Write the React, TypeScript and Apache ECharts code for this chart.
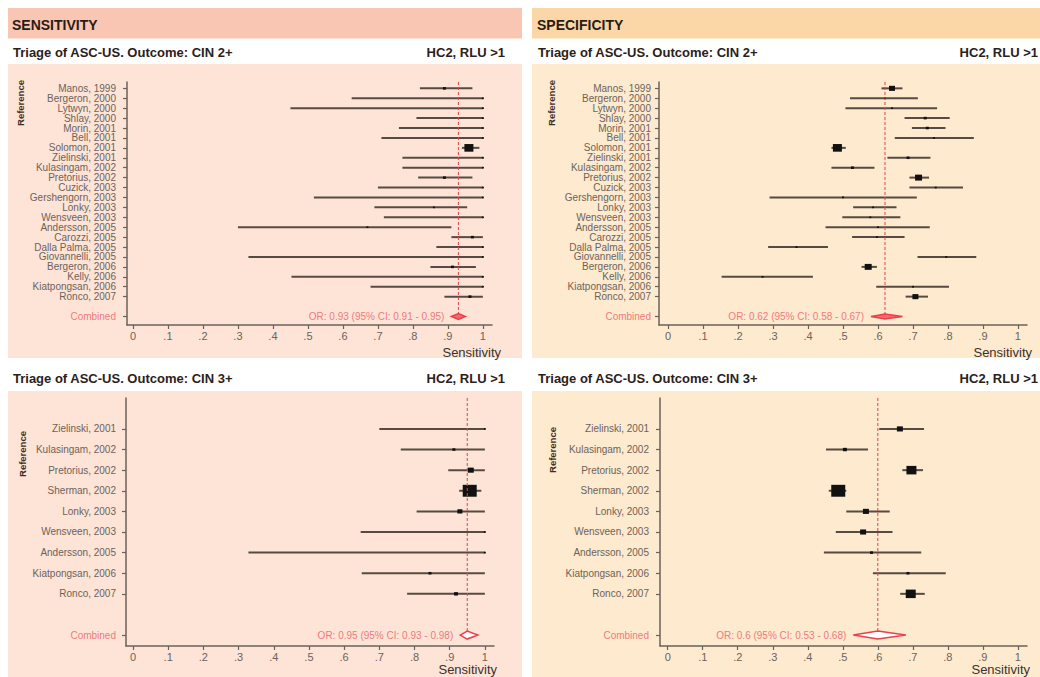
import React, { useEffect, useRef } from 'react';
import * as echarts from 'echarts';

// ---------- DATA ----------
const cin2Studies = [
  'Manos, 1999', 'Bergeron, 2000', 'Lytwyn, 2000', 'Shlay, 2000', 'Morin, 2001', 'Bell, 2001',
  'Solomon, 2001', 'Zielinski, 2001', 'Kulasingam, 2002', 'Pretorius, 2002', 'Cuzick, 2003',
  'Gershengorn, 2003', 'Lonky, 2003', 'Wensveen, 2003', 'Andersson, 2005', 'Carozzi, 2005',
  'Dalla Palma, 2005', 'Giovannelli, 2005', 'Bergeron, 2006', 'Kelly, 2006', 'Kiatpongsan, 2006',
  'Ronco, 2007',
];
const sens2Est = [0.89, 1.0, 1.0, 1.0, 1.0, 1.0, 0.96, 1.0, 1.0, 0.89, 1.0, 1.0, 0.86, 1.0, 0.67, 0.97, 1.0, 1.0, 0.913, 1.0, 1.0, 0.963];
const sens2Lo = [0.82, 0.625, 0.45, 0.81, 0.76, 0.71, 0.94, 0.77, 0.77, 0.815, 0.70, 0.517, 0.69, 0.717, 0.30, 0.91, 0.867, 0.33, 0.85, 0.453, 0.679, 0.89];
const sens2Hi = [0.97, 1.0, 1.0, 1.0, 1.0, 1.0, 0.99, 1.0, 1.0, 0.97, 1.0, 1.0, 0.955, 1.0, 0.91, 1.0, 1.0, 1.0, 0.98, 1.0, 1.0, 1.0];
const sens2Weight = [3, 2, 2, 2, 2, 2, 9, 2, 2, 3, 2, 2, 2, 2, 2, 3, 2, 2, 3, 2, 2, 3];
const sens2Combined = { est: 0.93, lo: 0.91, hi: 0.95 };

const spec2Est = [0.64, 0.62, 0.64, 0.735, 0.741, 0.76, 0.484, 0.686, 0.527, 0.716, 0.765, 0.50, 0.586, 0.578, 0.60, 0.597, 0.367, 0.795, 0.572, 0.27, 0.70, 0.707];
const spec2Lo = [0.61, 0.52, 0.507, 0.676, 0.697, 0.648, 0.467, 0.627, 0.467, 0.69, 0.69, 0.29, 0.529, 0.498, 0.45, 0.526, 0.286, 0.713, 0.553, 0.153, 0.595, 0.679];
const spec2Hi = [0.67, 0.714, 0.769, 0.805, 0.793, 0.874, 0.508, 0.75, 0.59, 0.746, 0.843, 0.711, 0.653, 0.664, 0.748, 0.676, 0.457, 0.881, 0.597, 0.414, 0.803, 0.743];
const spec2Weight = [6, 2, 2, 3, 3, 2, 9, 3, 3, 7, 2, 2, 2, 2, 2, 2, 2, 2, 7, 2, 2, 6];
const spec2Combined = { est: 0.62, lo: 0.58, hi: 0.67 };

const cin3Studies = [
  'Zielinski, 2001', 'Kulasingam, 2002', 'Pretorius, 2002', 'Sherman, 2002', 'Lonky, 2003',
  'Wensveen, 2003', 'Andersson, 2005', 'Kiatpongsan, 2006', 'Ronco, 2007',
];
const sens3Est = [1.0, 0.912, 0.96, 0.957, 0.929, 1.0, 1.0, 0.844, 0.918];
const sens3Lo = [0.70, 0.761, 0.896, 0.927, 0.806, 0.647, 0.328, 0.65, 0.779];
const sens3Hi = [1.0, 1.0, 1.0, 0.99, 1.0, 1.0, 1.0, 1.0, 1.0];
const sens3Weight = [2, 3, 6, 14, 5, 2, 2, 3, 4];
const sens3Combined = { est: 0.95, lo: 0.93, hi: 0.98 };

const spec3Est = [0.663, 0.506, 0.696, 0.487, 0.566, 0.558, 0.582, 0.686, 0.694];
const spec3Lo = [0.604, 0.452, 0.67, 0.46, 0.51, 0.48, 0.446, 0.586, 0.664];
const spec3Hi = [0.732, 0.572, 0.729, 0.51, 0.634, 0.642, 0.724, 0.794, 0.734];
const spec3Weight = [6, 4, 10, 14, 6, 6, 3, 3, 10];
const spec3Combined = { est: 0.6, lo: 0.53, hi: 0.68 };

const xTicks = [0, 0.1, 0.2, 0.3, 0.4, 0.5, 0.6, 0.7, 0.8, 0.9, 1];
const xTickLabels = ['0', '.1', '.2', '.3', '.4', '.5', '.6', '.7', '.8', '.9', '1'];

const headerLeft = 'SENSITIVITY';
const headerRight = 'SPECIFICITY';
const titleCin2 = 'Triage of ASC-US. Outcome: CIN 2+';
const titleCin3 = 'Triage of ASC-US. Outcome: CIN 3+';
const testLabel = 'HC2, RLU >1';
const xName = 'Sensitivity';
const yName = 'Reference';
const combinedName = 'Combined';

// ---------- STYLE ----------
const FONT = "'Liberation Sans', Arial, sans-serif";
const AXIS = '#6b625a';
const LABEL = '#6e625a';
const RED = '#ec3f4c';
const RED_TEXT = '#f07a80';

function forestRender(params: any, api: any) {
  const row = api.value(3);
  const pLo = api.coord([api.value(1), row]);
  const pHi = api.coord([api.value(2), row]);
  const pE = api.coord([api.value(0), row]);
  const s = api.value(4);
  const h = s * 0.85;
  return {
    type: 'group',
    children: [
      { type: 'line', shape: { x1: pLo[0], y1: pLo[1], x2: pHi[0], y2: pHi[1] }, style: { stroke: '#574b41', lineWidth: 2 } },
      { type: 'rect', shape: { x: pE[0] - s / 2, y: pE[1] - h / 2, width: s, height: h }, style: { fill: '#111' } },
    ],
  };
}

function makeCombinedRender(filled: boolean, halfH: number) {
  return (params: any, api: any) => {
    const row = api.value(3);
    const est = api.value(0);
    const lo = api.value(1);
    const hi = api.value(2);
    const pE = api.coord([est, row]);
    const pL = api.coord([lo, row]);
    const pH = api.coord([hi, row]);
    const cs = params.coordSys;
    return {
      type: 'group',
      children: [
        { type: 'line', shape: { x1: pE[0], y1: cs.y, x2: pE[0], y2: pE[1] }, style: { stroke: RED, lineWidth: 1, lineDash: [3, 2] } },
        {
          type: 'polygon',
          shape: { points: [[pL[0], pL[1]], [pE[0], pE[1] - halfH], [pH[0], pH[1]], [pE[0], pE[1] + halfH]] },
          style: { fill: filled ? '#f36b6f' : '#ffffff', stroke: RED, lineWidth: 1.5 },
        },
        {
          type: 'text',
          x: pL[0] - 7,
          y: pL[1],
          style: {
            text: `OR: ${est} (95% CI: ${lo} - ${hi})`,
            align: 'right',
            verticalAlign: 'middle',
            fill: RED_TEXT,
            fontSize: 10,
            fontFamily: FONT,
          },
        },
      ],
    };
  };
}

type PanelCfg = {
  grid: { left: number; top: number; width: number; height: number };
  xMin: number; xMax: number; yMin: number; yMax: number;
  names: string[]; est: number[]; lo: number[]; hi: number[]; weight: number[];
  comb: { est: number; lo: number; hi: number };
  combRow: number; filled: boolean; halfH: number; labelMargin: number;
};

function buildOption() {
  const panels: PanelCfg[] = [
    {
      grid: { left: 127, top: 82, width: 365, height: 243 },
      xMin: -0.017, xMax: 1.026, yMin: -0.64, yMax: 23.86,
      names: cin2Studies, est: sens2Est, lo: sens2Lo, hi: sens2Hi, weight: sens2Weight,
      comb: sens2Combined, combRow: 23, filled: true, halfH: 3, labelMargin: 11,
    },
    {
      grid: { left: 659, top: 82, width: 368, height: 243 },
      xMin: -0.026, xMax: 1.026, yMin: -0.64, yMax: 23.86,
      names: cin2Studies, est: spec2Est, lo: spec2Lo, hi: spec2Hi, weight: spec2Weight,
      comb: spec2Combined, combRow: 23, filled: true, halfH: 2.5, labelMargin: 8,
    },
    {
      grid: { left: 126, top: 398, width: 368, height: 248 },
      xMin: -0.02, xMax: 1.026, yMin: -1.5, yMax: 10.53,
      names: cin3Studies, est: sens3Est, lo: sens3Lo, hi: sens3Hi, weight: sens3Weight,
      comb: sens3Combined, combRow: 10, filled: false, halfH: 4, labelMargin: 10,
    },
    {
      grid: { left: 660, top: 398, width: 367, height: 248 },
      xMin: -0.022, xMax: 1.026, yMin: -1.5, yMax: 10.53,
      names: cin3Studies, est: spec3Est, lo: spec3Lo, hi: spec3Hi, weight: spec3Weight,
      comb: spec3Combined, combRow: 10, filled: false, halfH: 4, labelMargin: 11,
    },
  ];

  const grids: any[] = [];
  const xAxes: any[] = [];
  const yAxes: any[] = [];
  const series: any[] = [];

  panels.forEach((p, i) => {
    grids.push({ ...p.grid, containLabel: false, outerBoundsMode: 'none' });
    const rows = p.names.map((_, k) => k).concat([p.combRow]);
    xAxes.push({
      gridIndex: i, type: 'value', min: p.xMin, max: p.xMax, position: 'bottom',
      axisLine: { show: true, onZero: false, lineStyle: { color: AXIS, width: 1.5 } },
      axisTick: { show: true, length: 4, customValues: xTicks, lineStyle: { color: AXIS, width: 1.2 } },
      axisLabel: {
        customValues: xTicks, color: LABEL, fontSize: 11, fontFamily: FONT, margin: 5,
        formatter: (v: number) => xTickLabels[Math.round(v * 10)],
      },
      splitLine: { show: false },
    });
    yAxes.push({
      gridIndex: i, type: 'value', inverse: true, min: p.yMin, max: p.yMax, position: 'left',
      axisLine: { show: true, onZero: false, lineStyle: { color: AXIS, width: 1.5 } },
      axisTick: { show: true, length: 4, customValues: rows, lineStyle: { color: AXIS, width: 1.2 } },
      axisLabel: {
        customValues: rows, color: LABEL, fontSize: 10, fontFamily: FONT, margin: p.labelMargin,
        formatter: (v: number) => {
          const k = Math.round(v);
          return k === p.combRow ? `{c|${combinedName}}` : p.names[k];
        },
        rich: { c: { color: RED_TEXT, fontSize: 10, fontFamily: FONT } },
      },
      splitLine: { show: false },
    });
    series.push({
      type: 'custom', xAxisIndex: i, yAxisIndex: i,
      renderItem: forestRender,
      encode: { x: [0, 1, 2], y: 3 },
      data: p.names.map((_, k) => [p.est[k], p.lo[k], p.hi[k], k, p.weight[k]]),
      z: 3,
    });
    series.push({
      type: 'custom', xAxisIndex: i, yAxisIndex: i,
      renderItem: makeCombinedRender(p.filled, p.halfH),
      encode: { x: [0, 1, 2], y: 3 },
      data: [[p.comb.est, p.comb.lo, p.comb.hi, p.combRow]],
      z: 4,
    });
  });

  const txt = (text: string, x: number, y: number, o: any = {}) => ({
    type: 'text', x, y, z: 10,
    style: { text, fontFamily: FONT, verticalAlign: 'middle', align: 'left', fill: '#2b211b', fontSize: 13, ...o },
  });
  const rect = (x: number, y: number, w: number, h: number, fill: string) => ({
    type: 'rect', z: -10, shape: { x, y, width: w, height: h }, style: { fill },
  });

  const graphic: any[] = [
    // left column
    rect(8, 8, 514, 669, '#fde4d6'),
    rect(8, 8, 514, 30, '#f9c6b3'),
    rect(8, 39, 514, 25, '#ffffff'),
    rect(8, 358, 514, 33, '#ffffff'),
    // right column
    rect(532, 8, 520, 669, '#fdeacf'),
    rect(532, 8, 520, 30, '#fbd7a8'),
    rect(532, 39, 520, 25, '#ffffff'),
    rect(532, 358, 520, 33, '#ffffff'),
    txt(headerLeft, 12, 25, { fontWeight: 'bold', fontSize: 14, fill: '#2a1c14' }),
    txt(headerRight, 537, 25, { fontWeight: 'bold', fontSize: 14, fill: '#2a1c14' }),
    txt(titleCin2, 13, 52, { fontWeight: 'bold' }),
    txt(testLabel, 505, 52, { fontWeight: 'bold', align: 'right' }),
    txt(titleCin2, 538, 52, { fontWeight: 'bold' }),
    txt(testLabel, 1038, 52, { fontWeight: 'bold', align: 'right' }),
    txt(titleCin3, 13, 378, { fontWeight: 'bold' }),
    txt(testLabel, 505, 378, { fontWeight: 'bold', align: 'right' }),
    txt(titleCin3, 538, 378, { fontWeight: 'bold' }),
    txt(testLabel, 1038, 378, { fontWeight: 'bold', align: 'right' }),
    txt(xName, 501, 352, { align: 'right', fill: '#3a322c' }),
    txt(xName, 1032, 352, { align: 'right', fill: '#3a322c' }),
    txt(xName, 497, 669, { align: 'right', fill: '#3a322c' }),
    txt(xName, 1030, 669, { align: 'right', fill: '#3a322c' }),
    { ...txt(yName, 20, 103, { align: 'center', fontWeight: 'bold', fontSize: 9.5, fill: '#3a2e26' }), rotation: Math.PI / 2 },
    { ...txt(yName, 551, 103, { align: 'center', fontWeight: 'bold', fontSize: 9.5, fill: '#3a2e26' }), rotation: Math.PI / 2 },
    { ...txt(yName, 22, 454, { align: 'center', fontWeight: 'bold', fontSize: 9.5, fill: '#3a2e26' }), rotation: Math.PI / 2 },
    { ...txt(yName, 552, 450, { align: 'center', fontWeight: 'bold', fontSize: 9.5, fill: '#3a2e26' }), rotation: Math.PI / 2 },
  ];

  return {
    animation: false,
    backgroundColor: '#ffffff',
    grid: grids,
    xAxis: xAxes,
    yAxis: yAxes,
    series,
    graphic,
  };
}

export default function App() {
  const ref = useRef<HTMLDivElement>(null);
  useEffect(() => {
    if (!ref.current) return;
    const chart = echarts.init(ref.current, undefined, { renderer: 'svg' });
    chart.setOption(buildOption() as any);
    return () => chart.dispose();
  }, []);
  return <div ref={ref} style={{ position: 'fixed', left: 0, top: 0, width: 1040, height: 677 }} />;
}
